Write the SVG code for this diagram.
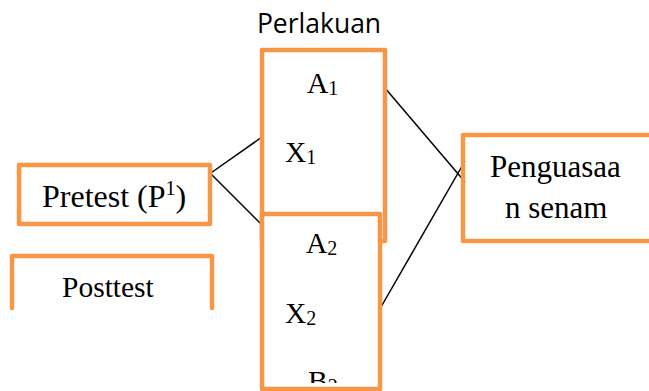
<svg xmlns="http://www.w3.org/2000/svg" width="649" height="391" viewBox="0 0 649 391">
<style>
.box{fill:#fff;stroke:#F79646;stroke-width:4.5;stroke-linejoin:round}
.edge{fill:none;stroke:#F79646;stroke-width:4.5;stroke-linecap:round;stroke-linejoin:round}
.t{font-family:"Liberation Serif","Times New Roman",serif;fill:#000}
.conn{stroke:#000;stroke-width:1.5;fill:none}
.title{font-family:"Open Sans","Liberation Sans",sans-serif;fill:#000}
</style>
<defs>
<clipPath id="c1"><rect x="265" y="53" width="118" height="186"/></clipPath>
<clipPath id="c2"><rect x="265" y="217" width="113" height="166"/></clipPath>
<clipPath id="cpost"><rect x="13" y="257" width="198" height="48"/></clipPath>
</defs>
<rect width="649" height="391" fill="#fff"/>
<text class="title" x="319" y="33" font-size="26.5" text-anchor="middle">Perlakuan</text>
<g id="connectors">
<line class="conn" x1="208" y1="175" x2="262" y2="137"/>
<line class="conn" x1="208" y1="171" x2="262" y2="225"/>
<line class="conn" x1="385" y1="88" x2="465" y2="182"/>
<line class="conn" x1="381" y1="307" x2="465" y2="161"/>
</g>
<g id="pretest">
<rect class="box" x="19" y="165" width="191" height="59"/>
<text class="t" x="42" y="207" font-size="32">Pretest (P<tspan font-size="20" dy="-12">1</tspan><tspan dy="12">)</tspan></text>
</g>
<g id="posttest">
<path class="edge" d="M12 308 V256 H212 V308"/>
<g clip-path="url(#cpost)">
<text class="t" x="62" y="297" font-size="29.5">Posttest</text>
</g>
</g>
<g id="perlakuan1">
<rect class="box" x="262" y="50" width="123" height="191"/>
<g clip-path="url(#c1)">
<text class="t" x="307" y="93" font-size="29.5">A<tspan font-size="20" dy="2">1</tspan></text>
<text class="t" x="285" y="162" font-size="29.5">X<tspan font-size="20" dy="2">1</tspan></text>
<text class="t" x="307" y="231" font-size="29.5">B<tspan font-size="20" dy="2">1</tspan></text>
</g>
</g>
<g id="perlakuan2">
<rect class="box" x="262" y="214" width="118" height="175"/>
<g clip-path="url(#c2)">
<text class="t" x="306" y="253" font-size="29.5">A<tspan font-size="20" dy="2">2</tspan></text>
<text class="t" x="285" y="323" font-size="29.5">X<tspan font-size="20" dy="2">2</tspan></text>
<text class="t" x="308" y="391" font-size="29.5">B<tspan font-size="20" dy="2">2</tspan></text>
</g>
</g>
<g id="penguasaan">
<path class="edge" d="M660 135 H463 V241 H660"/>
<text class="t" x="490" y="177" font-size="31">Penguasaa</text>
<text class="t" x="505" y="218" font-size="31">n senam</text>
</g>
</svg>
